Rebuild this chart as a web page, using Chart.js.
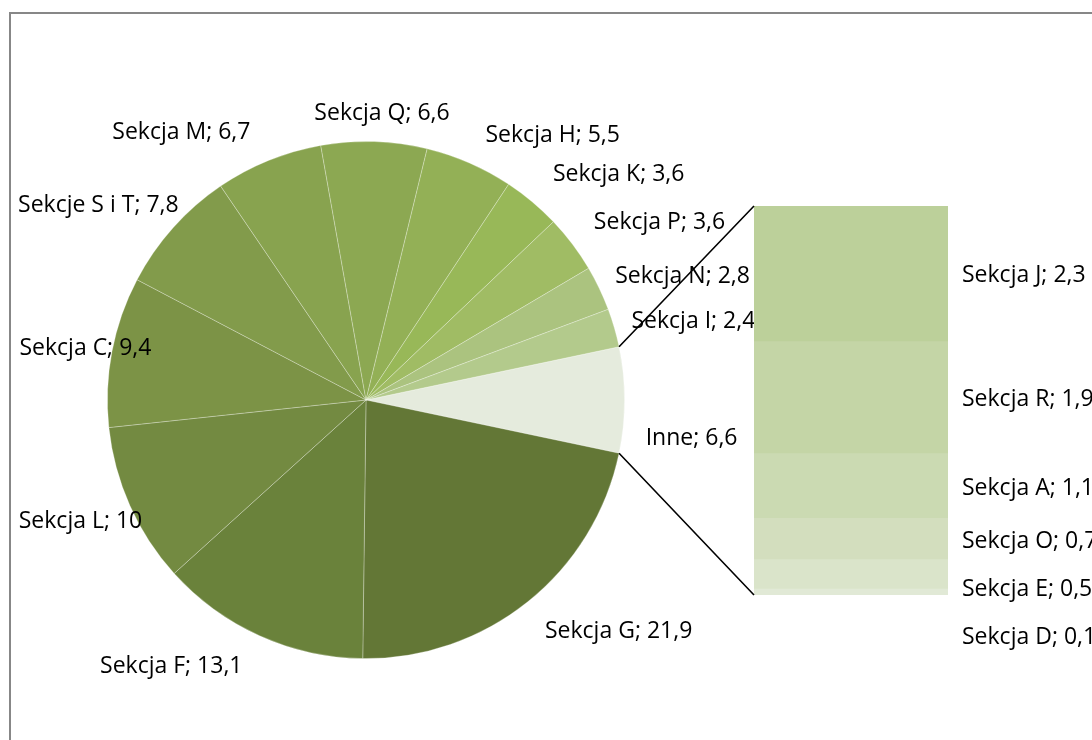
<!DOCTYPE html>
<html><head><meta charset="utf-8">
<script src="https://cdn.jsdelivr.net/npm/chart.js@4/dist/chart.umd.min.js"></script>
<style>
html,body{margin:0;padding:0;background:#fff;overflow:hidden}
#wrap{position:relative;width:1092px;height:740px;overflow:hidden}
#frame{position:absolute;left:9px;top:12px;width:1200px;height:1000px;border:2px solid #878787;box-sizing:border-box}
canvas{position:absolute;left:0;top:0}
</style></head><body>
<div id="wrap"><div id="frame"></div>
<canvas id="pie" width="1092" height="740"></canvas>
<canvas id="bar" width="1092" height="740"></canvas></div>
<script>
// ---- data ----
const pieLabels = ['Inne','Sekcja G','Sekcja F','Sekcja L','Sekcja C','Sekcje S i T','Sekcja M','Sekcja Q','Sekcja H','Sekcja K','Sekcja P','Sekcja N','Sekcja I'];
const pieValues = [6.6, 21.9, 13.1, 10, 9.4, 7.8, 6.7, 6.6, 5.5, 3.6, 3.6, 2.8, 2.4];
const barLabels = ['Sekcja J','Sekcja R','Sekcja A','Sekcja O','Sekcja E','Sekcja D'];
const barValues = [2.3, 1.9, 1.1, 0.7, 0.5, 0.1];

// ---- styles / layout ----
const pieColors = ['#e5ebdd','#637736','#6a823b','#738a41','#7c9346','#829b4b','#88a34f','#8ca852','#93b056','#98b858','#a0bc64','#abc37f','#b3ca8c'];
const barColors = ['#bcd09a','#c4d5a6','#cbdab2','#d3debe','#dae4ca','#e1e9d6'];
// label centres relative to pie centre, in units of pie radius
const pieLabelLayout = [[1.259,0.147],[0.977,0.896],[-0.753,1.031],[-1.104,0.471],[-1.085,-0.201],[-1.035,-0.753],[-0.714,-1.035],[0.062,-1.108],[0.722,-1.023],[0.977,-0.873],[1.135,-0.687],[1.224,-0.479],[1.266,-0.305]];
const FONT = '23px "Open Sans"';
const fmt = v => String(v).replace('.', ',');

const total = pieValues.reduce((a,b)=>a+b,0);
const otherSweep = pieValues[0] / total * 360;
const rotation = 90 - otherSweep / 2;

const pieLabelPlugin = {
  id: 'pieLabels',
  afterDatasetsDraw(chart) {
    const ctx = chart.ctx;
    const arcs = chart.getDatasetMeta(0).data;
    ctx.save();
    ctx.font = FONT;
    ctx.fillStyle = '#000';
    ctx.textAlign = 'center';
    ctx.textBaseline = 'middle';
    arcs.forEach((arc, i) => {
      const r = arc.outerRadius;
      const [fx, fy] = pieLabelLayout[i];
      ctx.fillText(pieLabels[i] + '; ' + fmt(pieValues[i]), arc.x + fx * r, arc.y + fy * r);
    });
    ctx.restore();
  }
};

const pieChart = new Chart(document.getElementById('pie'), {
  type: 'pie',
  data: {
    labels: pieLabels,
    datasets: [{
      data: pieValues,
      backgroundColor: pieColors,
      borderColor: 'rgba(255,255,255,0.35)',
      borderWidth: 0.8,
      hoverOffset: 0,
      offset: 0
    }]
  },
  options: {
    responsive: false,
    animation: false,
    events: [],
    rotation: rotation,
    layout: { padding: { left: 107, right: 467, top: 141, bottom: 81 } },
    plugins: { legend: { display: false }, tooltip: { enabled: false } }
  },
  plugins: [pieLabelPlugin]
});

const barSum = barValues.reduce((a,b)=>a+b,0);
const barOverlay = {
  id: 'barOverlay',
  afterDatasetsDraw(chart) {
    const ctx = chart.ctx;
    // connector lines from pie "Inne" slice edges to bar corners
    const arc = pieChart.getDatasetMeta(0).data[0];
    const bar0 = chart.getDatasetMeta(0).data[0];
    const left = bar0.x - bar0.width / 2;
    const right = bar0.x + bar0.width / 2;
    const top = chart.scales.y.getPixelForValue(barSum);
    const bottom = chart.scales.y.getPixelForValue(0);
    ctx.save();
    ctx.strokeStyle = '#000';
    ctx.lineWidth = 1.6;
    ctx.beginPath();
    ctx.moveTo(arc.x + arc.outerRadius * Math.cos(arc.startAngle), arc.y + arc.outerRadius * Math.sin(arc.startAngle));
    ctx.lineTo(left, top);
    ctx.moveTo(arc.x + arc.outerRadius * Math.cos(arc.endAngle), arc.y + arc.outerRadius * Math.sin(arc.endAngle));
    ctx.lineTo(left, bottom);
    ctx.stroke();
    // labels for bar segments (top to bottom), pushed down to avoid overlap
    ctx.font = FONT;
    ctx.fillStyle = '#000';
    ctx.textAlign = 'left';
    ctx.textBaseline = 'middle';
    let prev = -Infinity;
    const minGap = 48;
    for (let i = 0; i < barLabels.length; i++) {
      const dsIndex = barLabels.length - 1 - i;
      const el = chart.getDatasetMeta(dsIndex).data[0];
      let y = (el.y + el.base) / 2 + 2;
      if (y < prev + minGap) y = prev + minGap;
      prev = y;
      ctx.fillText(barLabels[i] + '; ' + fmt(barValues[i]), right + 14, y);
    }
    ctx.restore();
  }
};

// stacked from bottom: reverse order so first label is on top
const barDatasets = barLabels.map((l, i) => ({
  label: l,
  data: [barValues[i]],
  backgroundColor: barColors[i],
  borderWidth: 0,
  barPercentage: 1,
  categoryPercentage: 1
})).reverse();

const barChart = new Chart(document.getElementById('bar'), {
  type: 'bar',
  data: { labels: ['Inne'], datasets: barDatasets },
  options: {
    responsive: false,
    animation: false,
    events: [],
    layout: { padding: { left: 754, right: 144, top: 206, bottom: 145 } },
    scales: {
      x: { display: false, stacked: true },
      y: { display: false, stacked: true, min: 0, max: barSum }
    },
    plugins: { legend: { display: false }, tooltip: { enabled: false } }
  },
  plugins: [barOverlay]
});
</script>
</body></html>
